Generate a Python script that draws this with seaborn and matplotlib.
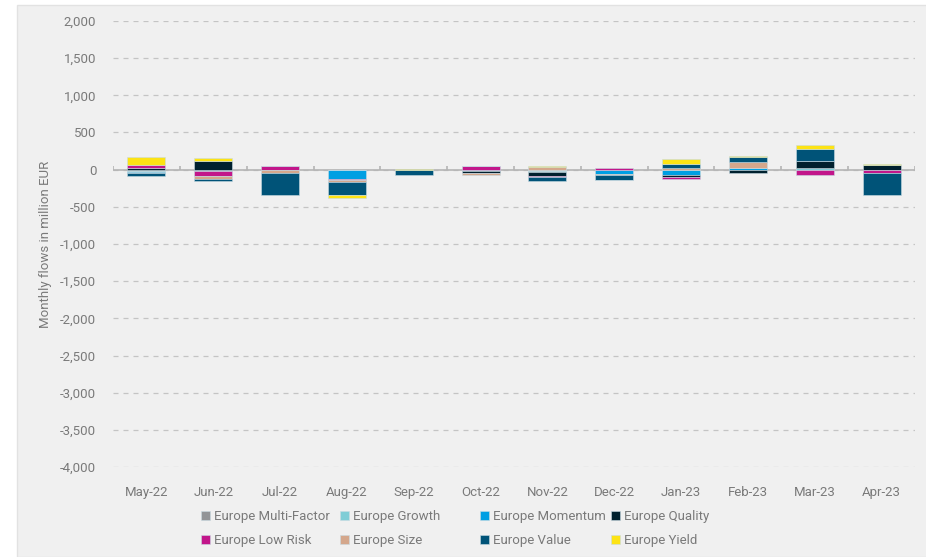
import numpy as np
import pandas as pd
import matplotlib.pyplot as plt
import seaborn as sns
from matplotlib.patches import Rectangle

sns.set_style('white')
plt.rcParams['font.family'] = ['Roboto', 'DejaVu Sans']

months = ['May-22', 'Jun-22', 'Jul-22', 'Aug-22', 'Sep-22', 'Oct-22',
          'Nov-22', 'Dec-22', 'Jan-23', 'Feb-23', 'Mar-23', 'Apr-23']

multi_factor = [-20, -10, -10, 0, 0, -15, -15, -10, 0, -10, -10, -10]
growth = [-15, -10, 0, 0, -5, 0, -15, 0, 0, 0, 20, 0]
momentum = [-5, 0, 0, -130, 0, 0, 0, -45, -75, 20, 0, 0]
quality = [20, 115, 0, 0, 0, -30, -55, 0, -22, -35, 103, 58]
low_risk = [45, -60, 55, -15, 0, 55, -20, 20, -22, 0, -60, -35]
size = [-5, -45, -30, -18, 0, -30, 30, -15, 20, 80, 0, 0]
value = [-35, -25, -295, -180, -65, 0, -50, -65, 55, 65, 155, -295]
yield_ = [100, 40, 0, -40, 15, 0, 20, -10, 70, 18, 50, 12]

series = ['Europe Multi-Factor', 'Europe Growth', 'Europe Momentum', 'Europe Quality',
          'Europe Low Risk', 'Europe Size', 'Europe Value', 'Europe Yield']
colors = ['#929497', '#7fcdd6', '#009fe3', '#00202e',
          '#c2168a', '#d4a78c', '#005378', '#fde314']

df = pd.DataFrame({'month': months})
for name, vals in zip(series, [multi_factor, growth, momentum, quality,
                               low_risk, size, value, yield_]):
    df[name] = vals

fig = plt.figure(figsize=(9.26, 5.57), dpi=100)
fig.patch.set_facecolor('white')
fig.patches.append(Rectangle((17 / 926, 0), 1, 1 - 5 / 557, transform=fig.transFigure,
                             facecolor='#f0f0f0', edgecolor='#e2e2e2', linewidth=1,
                             zorder=-10))
ax = fig.add_axes([113 / 926, 1 - 467 / 557, 802 / 926, 446 / 557])
ax.set_facecolor('none')

x = np.arange(len(months))
pos_bottom = np.zeros(len(months))
neg_bottom = np.zeros(len(months))
for name, c in zip(series, colors):
    v = df[name].to_numpy(dtype=float)
    bottom = np.where(v >= 0, pos_bottom, neg_bottom)
    ax.bar(x, v, bottom=bottom, width=0.57, color=c, label=name,
           edgecolor='#c9dbe3', linewidth=0.4, zorder=3)
    pos_bottom += np.where(v >= 0, v, 0)
    neg_bottom += np.where(v < 0, v, 0)

ax.set_ylim(-4000, 2000)
ax.set_xlim(-0.5, len(months) - 0.5)
ax.set_yticks(np.arange(-4000, 2001, 500))
ax.set_yticklabels([f'{t:,}' for t in np.arange(-4000, 2001, 500)])
ax.set_xticks(x)
ax.set_xticklabels(months)
ax.tick_params(axis='both', length=0, colors='#7a7a7a', labelsize=9.5)
ax.tick_params(axis='x', pad=14)
ax.tick_params(axis='y', pad=12)
ax.yaxis.grid(True, linestyle=(0, (4, 4)), color='#c4c4c4', linewidth=0.9, zorder=0)
for s in ax.spines.values():
    s.set_visible(False)

# zero line with boundary ticks
ax.axhline(0, color='#b4b4b4', linewidth=1.2, zorder=2)
ax.vlines(np.arange(len(months) + 1) - 0.5, 0, 55, color='#b4b4b4', linewidth=1.2, zorder=2)

ax.set_ylabel('Monthly flows in million EUR', color='#7a7a7a', fontsize=9.5, labelpad=6)

# legend: 4 columns of fixed width, filled row by row
handles, labels = ax.get_legend_handles_labels()
col_x = [189, 328, 468, 599]
for i, cx in enumerate(col_x):
    idx = [i, i + 4]
    leg = fig.legend([handles[j] for j in idx], [labels[j] for j in idx],
                     loc='lower left', bbox_to_anchor=(cx / 926, -0.004),
                     frameon=False, fontsize=9.5, handlelength=0.7, handleheight=0.7,
                     handletextpad=0.3, labelspacing=0.85)
    for t in leg.get_texts():
        t.set_color('#7a7a7a')

fig.savefig('out.png', dpi=100, facecolor=fig.get_facecolor())
